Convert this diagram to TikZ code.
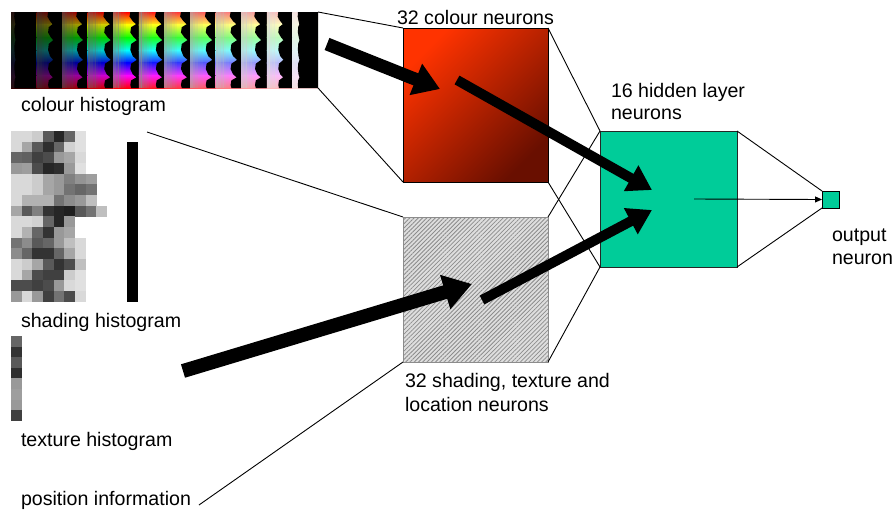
\documentclass[tikz,border=0pt]{standalone}
\usepackage{fontspec}
\setmainfont{Liberation Sans}
\usetikzlibrary{arrows.meta,patterns.meta}

\definecolor{hiddengreen}{RGB}{0,204,153}
\definecolor{colourtop}{RGB}{255,51,0}
\definecolor{colourbot}{RGB}{105,15,0}
\definecolor{hatchbg}{RGB}{222,222,222}
\definecolor{hatchline}{RGB}{140,140,140}
\definecolor{hatchedge}{RGB}{140,140,140}

\begin{document}
\begin{tikzpicture}[x=1pt,y=-1pt,
  lbl/.style={inner sep=0pt, outer sep=0pt, anchor=base west,
              font=\fontsize{19.6}{23}\selectfont},
  wire/.style={draw=black, line width=0.9pt},
  frame/.style={inner sep=0pt, outer sep=0pt},
  bigarrow/.style n args={3}{line width=#1, -{Triangle[length=#2, width=#3]}},
]
\useasboundingbox (0,0) rectangle (896,509);

% ---------------- input images (named frames) ----------------
\node[frame, minimum width=307pt, minimum height=76pt] (chist) at (164.5,50) {};
\node[frame, minimum width=96pt, minimum height=171pt] (shist) at (59,216.5) {};
\node[frame, fill=black, minimum width=11pt, minimum height=160pt] (sbar) at (132.5,222) {};
\node[frame, minimum width=11pt, minimum height=85pt] (thist) at (16.5,378.5) {};
\coordinate (shadetap) at (147,132);

% colour histogram: 12 brightness strips, hue runs downwards
\def\hx{11}\def\hy{12}\def\hw{25.58}\def\hh{76}
\begin{scope}
\clip (11,12) rectangle (318,88);
\foreach \i/\mix/\k/\g/\sb/\sa in {
   0/black/20/10/0.12/0.06, 1/black/40/20/0.40/0.25, 2/black/60/30/0.52/0.30,
   3/black/80/40/0.58/0.32, 4/black/100/50/0.60/0.32, 5/white/90/55/0.60/0.32,
   6/white/78/61/0.58/0.32, 7/white/65/67/0.55/0.32, 8/white/52/74/0.52/0.32,
   9/white/40/80/0.48/0.30, 10/white/28/86/0.40/0.25, 11/white/15/92/0.20/0.08} {
  \pgfmathsetmacro{\xs}{\hx+\i*\hw}
  \pgfmathsetmacro{\xe}{\xs+\hw+0.3}
  \foreach \ca/\cb [count=\s from 0] in
      {red/yellow,yellow/green,green/cyan,cyan/blue,blue/magenta,magenta/red} {
    \pgfmathsetmacro{\ya}{\hy+\s*\hh/6}
    \pgfmathsetmacro{\yb}{\hy+(\s+1)*\hh/6+0.5}
    \shade[top color=\ca!\k!\mix, bottom color=\cb!\k!\mix] (\xs,\ya) rectangle (\xe,\yb);
  }
  \foreach \j/\op in {0/0.6,1/0.45,2/0.32,3/0.2,4/0.1} {
    \fill[white!\g!black, opacity=\op]
      ({\xs+\j*0.1*\hw},\hy) rectangle ({\xs+(\j+1)*0.1*\hw+0.2},{\hy+\hh});
  }
  \fill[black] (\xe,\hy)
    \foreach \t/\f in {0/0.2,0.06/0.1,0.12/0.5,0.16/0.9,0.2/0.3,0.27/0.2,0.33/0.6,
                       0.37/1.0,0.42/0.3,0.5/0.2,0.58/0.5,0.63/1.0,0.68/0.3,0.75/0.2,
                       0.82/0.5,0.86/0.95,0.9/0.3,0.96/0.2,1/0.3}
      { -- ({\xs+\hw*(\sb+\sa*\f)},{\hy+\hh*\t}) }
    -- (\xe,{\hy+\hh}) -- cycle;
}
\end{scope}

% shading histogram: grey-level cells
\def\cs{10.67}
\foreach \row [count=\r from 0] in {
  {85,85,80,35,15,40,88},
  {85,65,35,18,40,82,88},
  {40,38,25,30,60,65,85},
  {60,62,30,15,18,60,88},
  {85,85,80,65,60,50,58,62},
  {85,85,80,65,60,45,40,45},
  {85,70,70,70,45,55,60,75},
  {65,35,50,20,15,12,35,45,75},
  {85,85,82,40,15,60},
  {85,70,40,20,60,65},
  {45,55,35,40,60,75,85},
  {55,40,20,20,40,65,85},
  {85,80,65,35,20,30,75},
  {85,65,30,25,25,80,88},
  {30,30,25,30,60,85,88},
  {60,85,60,25,45,30,85}} {
  \foreach \v [count=\c from 0] in \row {
    \fill[white!\v!black] ({11+\c*\cs},{131+\r*\cs}) rectangle ({11+(\c+1)*\cs+0.3},{131+(\r+1)*\cs+0.3});
  }
}

% texture histogram
\foreach \v [count=\r from 0] in {40,20,35,18,60,62,60,25} {
  \fill[white!\v!black] (11,{336+\r*10.6}) rectangle (22,{336+(\r+1)*10.6+0.3});
}

% ---------------- neuron layers ----------------
\node[frame, draw=black, line width=0.8pt, top color=colourtop, bottom color=colourbot,
      shading angle=45, minimum width=145pt, minimum height=154pt] (colour) at (475.5,105) {};
\node[frame, draw=hatchedge, line width=0.8pt, fill=hatchbg,
      postaction={pattern={Lines[angle=45,distance=3pt,line width=0.8pt]}, pattern color=hatchline},
      minimum width=145pt, minimum height=145pt] (shape) at (475.5,289.5) {};
\node[frame, draw=black!85, line width=0.9pt, fill=hiddengreen,
      minimum width=137pt, minimum height=136pt] (hidden) at (668.5,199) {};
\node[frame, draw=black, line width=0.8pt, fill=hiddengreen,
      minimum width=17pt, minimum height=17pt] (out) at (830.5,199.5) {};

% ---------------- labels ----------------
\node[lbl] (chistlbl) at (21,111) {colour histogram};
\node[lbl] (shistlbl) at (21,327) {shading histogram};
\node[lbl] (thistlbl) at (21,446) {texture histogram};
\node[lbl] (poslbl) at (21,505) {position information};
\node[lbl] (colourlbl) at (397,24) {32 colour neurons};
\node[lbl] (hiddenlbl) at (611,97) {16 hidden layer};
\node[lbl] (hiddenlblb) at (611,119) {neurons};
\node[lbl] (shapelbl) at (405,387) {32 shading, texture and};
\node[lbl] (shapelblb) at (405,411) {location neurons};
\node[lbl] (outlbl) at (832,241) {output};
\node[lbl] (outlblb) at (832,264) {neuron};

% ---------------- thin connection lines ----------------
\draw[wire] (chist.north east) -- (colour.north west);
\draw[wire] (chist.south east) -- (colour.south west);
\draw[wire] (shadetap) -- (shape.north west);
\draw[wire] ([xshift=8pt]poslbl.base east) -- (shape.south west);
\draw[wire] (colour.north east) -- (hidden.north west);
\draw[wire] (colour.south east) -- (hidden.south west);
\draw[wire] (shape.north east) -- (hidden.north west);
\draw[wire] (shape.south east) -- (hidden.south west);
\draw[wire] (hidden.north east) -- (out.north west);
\draw[wire] (hidden.south east) -- (out.south west);

% ---------------- data flow arrows ----------------
\coordinate (colourfrom) at (327,44);
\coordinate (colourto)   at (440,89);
\coordinate (colourout)  at (457,80);
\coordinate (hiddenina)  at (652,190);
\coordinate (shapefrom)  at (183,371);
\coordinate (shapeto)    at (472,284);
\coordinate (shapeout)   at (482,300);
\coordinate (hiddeninb)  at (652,210);
\coordinate (hiddenout)  at (694,199);

\draw[bigarrow={13pt}{26pt}{32pt}] (colourfrom) -- (colourto);
\draw[bigarrow={10pt}{24pt}{28pt}] (colourout) -- (hiddenina);
\draw[bigarrow={14pt}{28pt}{34pt}] (shapefrom) -- (shapeto);
\draw[bigarrow={10pt}{24pt}{28pt}] (shapeout) -- (hiddeninb);
\draw[line width=0.9pt, -{Triangle[length=7pt,width=6pt]}] (hiddenout) -- (out.west);
\end{tikzpicture}
\end{document}
